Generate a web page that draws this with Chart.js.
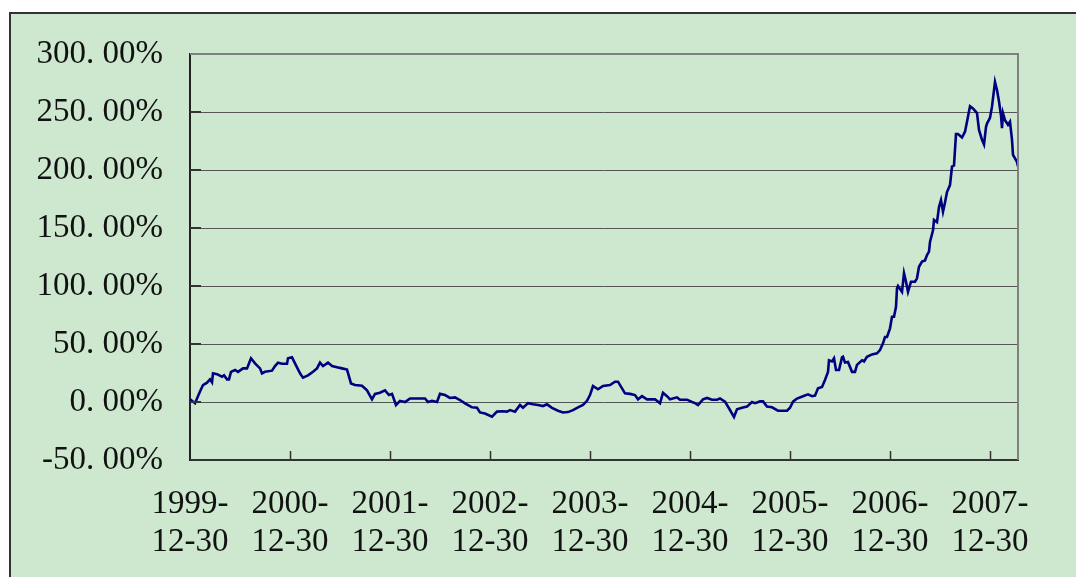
<!DOCTYPE html>
<html>
<head>
<meta charset="utf-8">
<script src="https://cdn.jsdelivr.net/npm/chart.js@4/dist/chart.umd.min.js"></script>
<style>
  html, body { margin: 0; padding: 0; background: #fff; overflow: hidden; }
  .frame { position: absolute; left: 9px; top: 12px; width: 1100px; height: 600px; background: #cde8cf; border: 2px solid #333; }
  .wrap { position: absolute; left: 0; top: 0; width: 1076px; height: 577px; }
</style>
</head>
<body>
<div class="frame"></div>
<div class="wrap"><canvas id="chart" width="1076" height="577"></canvas></div>
<script>
// time since 1999-12-30, in years
const years = [
  0.00, 0.01, 0.05, 0.10, 0.13, 0.17, 0.20, 0.22, 0.23, 0.27, 0.32, 0.34, 0.37, 0.39, 0.41, 0.45, 0.48,
  0.53, 0.57, 0.58, 0.61, 0.65, 0.70, 0.72, 0.75, 0.82, 0.85, 0.88, 0.92, 0.97, 0.98, 1.02, 1.05,
  1.10, 1.13, 1.18, 1.23, 1.27, 1.30, 1.33, 1.38, 1.42, 1.47, 1.52, 1.57, 1.61, 1.65, 1.72, 1.77,
  1.82, 1.85, 1.90, 1.95, 1.99, 2.02, 2.06, 2.10, 2.15, 2.20, 2.35, 2.38, 2.42, 2.47, 2.50, 2.55,
  2.60, 2.65, 2.70, 2.75, 2.82, 2.87, 2.90, 2.95, 3.02, 3.07, 3.12, 3.17, 3.20, 3.25, 3.30, 3.33,
  3.38, 3.43, 3.48, 3.53, 3.57, 3.62, 3.68, 3.73, 3.78, 3.83, 3.88, 3.93, 3.97, 4.00, 4.03, 4.08,
  4.13, 4.20, 4.25, 4.28, 4.35, 4.40, 4.45, 4.48, 4.52, 4.57, 4.65, 4.70, 4.73, 4.77, 4.80, 4.87,
  4.90, 4.97, 5.02, 5.05, 5.08, 5.13, 5.17, 5.22, 5.27, 5.30, 5.35, 5.40, 5.44, 5.47, 5.52, 5.57,
  5.62, 5.65, 5.70, 5.73, 5.77, 5.82, 5.88, 5.97, 6.00, 6.03, 6.07, 6.13, 6.18, 6.22, 6.25, 6.28,
  6.32, 6.35, 6.38, 6.39, 6.42, 6.44, 6.46, 6.49, 6.52, 6.53, 6.55, 6.58, 6.62, 6.65, 6.67, 6.72,
  6.74, 6.77, 6.82, 6.87, 6.90, 6.93, 6.95, 6.97, 7.00, 7.02, 7.04, 7.06, 7.07, 7.08, 7.12, 7.14,
  7.16, 7.18, 7.21, 7.25, 7.27, 7.29, 7.32, 7.35, 7.37, 7.39, 7.40, 7.43, 7.44, 7.47, 7.49, 7.51,
  7.53, 7.55, 7.57, 7.60, 7.62, 7.64, 7.66, 7.68, 7.72, 7.75, 7.77, 7.80, 7.83, 7.87, 7.89, 7.92,
  7.94, 7.96, 7.97, 8.00, 8.02, 8.05, 8.07, 8.09, 8.11, 8.12, 8.13, 8.15, 8.18, 8.20, 8.22, 8.23,
  8.27, 8.28
];
// cumulative return, %
const returns = [
  0, 1.7, -1, 9, 14.6, 16.7, 19.5, 17, 24.7, 24, 21.8, 23, 19.5, 19.5, 26, 27.6, 26,
  29, 29, 31, 37.7, 33.3, 29, 24.7, 26, 27, 31, 33.9, 33, 33, 37.7, 38.5, 33.3,
  24.7, 21, 23, 26, 29, 34, 31, 34, 31, 30, 29, 28, 16, 14.6, 14, 10,
  2.3, 7, 8, 10, 6, 7, -2.6, 1, 0, 3, 3, 0, 1, 0, 7, 6,
  3.5, 4, 1.7, -1.1, -4.6, -5, -9, -10, -12.6, -8.3, -8, -8.3, -7, -8.3, -2.6, -5,
  -1, -2, -2.6, -3.5, -2, -5, -7.5, -9, -8.7, -7, -4.6, -2.6, 1, 6, 13.8, 11,
  13.8, 14.6, 17.5, 17.5, 7.5, 7, 6, 2.3, 5, 2.3, 2.3, -1.1, 8, 5, 2.3, 4,
  2, 2, 0, -1, -2.6, 2.3, 3.5, 2, 2, 3, 0.3, -6.9, -13, -6.3, -5, -4,
  0, -1, 0.5, 0.5, -4, -4.6, -7.5, -7.5, -5, 0.3, 3, 5, 6.6, 5, 5.5, 11.8,
  13, 19, 26, 36, 35, 37.7, 27.6, 27.6, 38.5, 39, 34, 34.5, 26, 26, 32, 36,
  35, 39, 41, 42, 44.8, 50.6, 56, 56, 63.5, 73.5, 73.5, 82, 98, 100, 95, 111,
  103.7, 95, 103.7, 103.7, 106.6, 116.6, 121, 122, 126.7, 129.6, 138, 148, 157, 155, 168, 174,
  164, 172, 181, 187, 203, 204, 231, 231, 228, 233, 241.6, 255, 253, 249, 234.5, 226,
  222, 237, 240, 245, 254.6, 276, 269, 259, 247, 236, 249, 243, 239, 241.6, 226, 213,
  207, 203
];
const tickLabels = [
  ['1999-', '12-30'], ['2000-', '12-30'], ['2001-', '12-30'], ['2002-', '12-30'], ['2003-', '12-30'],
  ['2004-', '12-30'], ['2005-', '12-30'], ['2006-', '12-30'], ['2007-', '12-30']
];

const fontFamily = '"Liberation Serif", "DejaVu Serif", serif';

// gray top/right border and short inner tick marks like the original
const frameLines = {
  id: 'frameLines',
  afterDatasetsDraw(chart) {
    const { ctx, chartArea: a, scales: { x, y } } = chart;
    ctx.save();
    ctx.strokeStyle = '#333';
    ctx.lineWidth = 1.5;
    x.ticks.forEach(t => {
      if (t.value === 0) return;
      const px = Math.round(x.getPixelForValue(t.value)) + 0.5;
      ctx.beginPath();
      ctx.moveTo(px, a.bottom);
      ctx.lineTo(px, a.bottom - 9);
      ctx.stroke();
    });
    ctx.lineWidth = 2;
    y.ticks.forEach(t => {
      const py = Math.round(y.getPixelForValue(t.value));
      ctx.beginPath();
      ctx.moveTo(a.left, py);
      ctx.lineTo(a.left + 11, py);
      ctx.stroke();
    });
    ctx.strokeStyle = '#808080';
    ctx.lineWidth = 2;
    ctx.beginPath();
    ctx.moveTo(a.left, a.top);
    ctx.lineTo(a.right, a.top);
    ctx.lineTo(a.right, a.bottom);
    ctx.stroke();
    ctx.restore();
  }
};

const ctx = document.getElementById('chart').getContext('2d');
const chart = new Chart(ctx, {
  type: 'line',
  data: {
    datasets: [{
      data: years.map((v, i) => ({ x: v, y: returns[i] })),
      borderColor: '#000080',
      borderWidth: 2.6,
      pointRadius: 0,
      tension: 0,
      fill: false
    }]
  },
  options: {
    responsive: false,
    animation: false,
    layout: { padding: { left: 0, top: 54, right: 58, bottom: 0 } },
    plugins: { legend: { display: false }, tooltip: { enabled: false } },
    scales: {
      x: {
        type: 'linear',
        min: 0,
        max: 8.28,
        afterFit: s => { s.height = 117; },
        afterBuildTicks: s => { s.ticks = s.ticks.filter(t => Number.isInteger(t.value)); },
        grid: { display: false, drawTicks: false },
        border: { color: '#333', width: 2 },
        ticks: {
          stepSize: 1,
          includeBounds: false,
          autoSkip: false,
          maxRotation: 0,
          padding: 25,
          color: '#111',
          font: { family: fontFamily, size: 33, lineHeight: 1.15 },
          callback: (v) => tickLabels[v]
        }
      },
      y: {
        min: -50,
        max: 300,
        afterFit: s => { s.width = 190; },
        grid: { color: '#555', lineWidth: 1, drawTicks: false },
        border: { color: '#222', width: 2 },
        ticks: {
          stepSize: 50,
          padding: 27,
          color: '#111',
          font: { family: fontFamily, size: 33 },
          callback: (v) => v.toFixed(2).replace('.', '. ') + '%'
        }
      }
    }
  },
  plugins: [frameLines]
});
</script>
</body>
</html>
